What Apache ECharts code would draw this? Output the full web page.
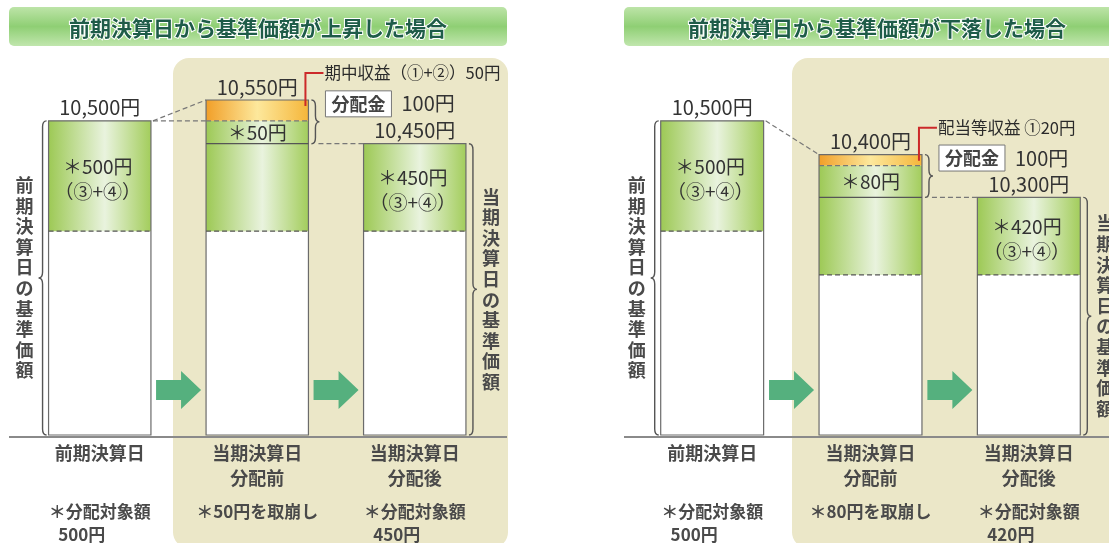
<!DOCTYPE html>
<html><head><meta charset="utf-8">
<script src="https://cdn.jsdelivr.net/npm/echarts@6/dist/echarts.min.js"></script>
<style>html,body{margin:0;padding:0;background:#fff}#c{width:1109px;height:543px}</style>
</head><body><div id="c"></div>
<script>
const FONT = '"Noto Sans CJK JP", "Noto Sans", sans-serif';

// ---------------- Data ----------------
const categories = ['前期決算日', '当期決算日\n分配前', '当期決算日\n分配後'];
const titleUp = '前期決算日から基準価額が上昇した場合';
const titleDown = '前期決算日から基準価額が下落した場合';
const sideTitleLeft = '前期決算日の基準価額';
const sideTitleRight = '当期決算日の基準価額';

// 基準価額 (円)
const navUp = [10500, 10550, 10450];
const navDown = [10500, 10400, 10300];
// 分配対象額 (③+④) (円)
const targetUp = [500, null, 450];
const targetDown = [500, null, 420];
// 取崩し額 (円)
const drawUp = [0, 50, 0];
const drawDown = [0, 80, 0];
// 期中収益 / 配当等収益 (円)
const incomeUp = [0, 50, 0];
const incomeDown = [0, 20, 0];
// 分配金 (円)
const distUp = [0, 100, 0];
const distDown = [0, 100, 0];
const incomeTextUp = '期中収益（①+②）50円';
const incomeTextDown = '配当等収益 ①20円';

// Schematic segment heights (diagram is not to scale)
const hBaseUp = [205, 205, 205];
const hTargetUp = [111, 88, 88];
const hDrawUp = [0, 23, 0];
const hIncomeUp = [0, 21, 0];
const hBaseDown = [205, 161, 161];
const hTargetDown = [111, 78, 78];
const hDrawDown = [0, 32, 0];
const hIncomeDown = [0, 11, 0];
const yMax = 340;

// ---------------- Helpers ----------------
const G = echarts.graphic;
const greenGrad = () => new G.LinearGradient(0, 0, 1, 0, [
  { offset: 0, color: '#9dc955' }, { offset: 0.55, color: '#e9f3de' }, { offset: 1, color: '#a3cd5c' }]);
const orangeGrad = () => new G.LinearGradient(0, 0, 1, 0, [
  { offset: 0, color: '#f19f28' }, { offset: 0.5, color: '#fde89c' }, { offset: 1, color: '#f5b63a' }]);
const yen = v => v.toLocaleString('en-US') + '円';

function rect(x, y, w, h, fill) {
  return { type: 'rect', shape: { x, y, width: w, height: h }, style: { fill } };
}
function seg(x1, y1, x2, y2, dashed, color, lw) {
  return { type: 'line', shape: { x1, y1, x2, y2 },
    style: { stroke: color || '#666', lineWidth: lw || 1.2, lineDash: dashed ? [5, 3] : null } };
}
function txt(text, x, y, o) {
  o = o || {};
  return { type: 'text', style: {
    text, x, y, fill: o.color || '#333', fontSize: o.size || 19, fontFamily: FONT,
    fontWeight: o.weight || 'normal', align: o.align || 'center', verticalAlign: 'middle',
    lineHeight: o.lh || undefined } };
}
function brace(x, yT, yB, dir) {
  const r = Math.min(6, (yB - yT) / 4), ym = (yT + yB) / 2;
  const ex = x - dir * 4, tx = x + dir * 4;
  const d = `M${ex},${yT} Q${x},${yT} ${x},${yT + r} L${x},${ym - r} Q${x},${ym} ${tx},${ym} ` +
            `Q${x},${ym} ${x},${ym + r} L${x},${yB - r} Q${x},${yB} ${ex},${yB}`;
  return { type: 'path', shape: { pathData: d }, style: { fill: 'none', stroke: '#555', lineWidth: 1.4 } };
}
function vtext(s, x, y) {
  return txt(s.split('').join('\n'), x, y, { size: 18, lh: 20.6, weight: 'bold', color: '#4a4a4a' });
}

function makePanel(P) {
  const n = P.nav.length;
  const cumH = j => [0, P.hBase[j], P.hBase[j] + P.hTarget[j],
    P.hBase[j] + P.hTarget[j] + P.hDraw[j], P.hBase[j] + P.hTarget[j] + P.hDraw[j] + P.hIncome[j]];
  // yen levels of a bar (top, after income, after drawdown) with their schematic heights
  const levels = j => {
    const c = cumH(j);
    return [{ v: P.nav[j], h: c[4] }, { v: P.nav[j] - P.income[j], h: c[3] },
            { v: P.nav[j] - P.income[j] - P.draw[j], h: c[2] }];
  };
  return function (params, api) {
    const i = api.value(0);
    const c = cumH(i);
    const ys = c.map(h => api.coord([i, h])[1]);
    const cx = api.coord([i, 0])[0];
    const bw = api.size([1, 0])[0] * 0.65;
    const xl = cx - bw / 2, xr = cx + bw / 2, top = ys[4];
    const ch = [];
    ch.push(rect(xl, ys[1], bw, ys[0] - ys[1], '#ffffff'));
    ch.push(rect(xl, ys[2], bw, ys[1] - ys[2], greenGrad()));
    if (P.hDraw[i] > 0) ch.push(rect(xl, ys[3], bw, ys[2] - ys[3], greenGrad()));
    if (P.hIncome[i] > 0) ch.push(rect(xl, ys[4], bw, ys[3] - ys[4], orangeGrad()));
    ch.push({ type: 'rect', shape: { x: xl, y: top, width: bw, height: ys[0] - top },
      style: { fill: 'none', stroke: '#6b6b6b', lineWidth: 1.2 } });
    ch.push(seg(xl, ys[1], xr, ys[1], true, '#555'));
    if (P.hDraw[i] > 0) ch.push(seg(xl, ys[2], xr, ys[2], false, '#555'));
    if (P.hIncome[i] > 0) ch.push(seg(xl, ys[3], xr, ys[3], true, '#777'));

    // value label on top
    ch.push(txt(yen(P.nav[i]), cx, top - 13, { size: 20 }));
    // inner label
    if (P.draw[i] > 0) {
      ch.push(txt('＊' + P.draw[i] + '円', cx, (ys[2] + ys[3]) / 2, { size: 19 }));
    } else if (P.target[i]) {
      ch.push(txt('＊' + P.target[i] + '円\n（③+④）', cx - 2, (ys[1] + ys[2]) / 2 + 3, { size: 19, lh: 25 }));
    }

    // connectors from previous bar
    if (i > 0) {
      const pc = cumH(i - 1);
      const pTop = api.coord([i - 1, pc[4]])[1];
      const pxr = api.coord([i - 1, 0])[0] + bw / 2;
      if (P.income[i] > 0) ch.push(seg(pxr + 2, pTop, xl, top, true, '#777'));
      const cur = levels(i).slice(1).find(l => l.v === P.nav[i - 1]);
      if (cur) ch.push(seg(pxr + 2, pTop, xl, api.coord([i, cur.h])[1], true, '#777'));
      const prev = levels(i - 1).slice(1).find(l => l.v === P.nav[i] && P.dist[i - 1] > 0);
      if (prev) ch.push(seg(pxr + 10, api.coord([i - 1, prev.h])[1], xl, top, true, '#777'));
      // arrow
      const tip = xl - 5, yc = ys[0] - 45;
      ch.push({ type: 'polygon', shape: { points: [[tip - 45, yc - 10], [tip - 20, yc - 10], [tip - 20, yc - 19],
        [tip, yc], [tip - 20, yc + 19], [tip - 20, yc + 10], [tip - 45, yc + 10]] }, style: { fill: '#55b07e' } });
    }
    // braces + side titles
    if (i === 0) {
      ch.push(brace(xl - 6, top, ys[0], -1));
      ch.push(vtext(sideTitleLeft, xl - 24, (top + ys[0]) / 2));
    }
    if (i === n - 1) {
      ch.push(brace(xr + 7, top, ys[0], 1));
      ch.push(vtext(sideTitleRight, xr + 25, (top + ys[0]) / 2));
    }
    if (P.dist[i] > 0) {
      const bm = (ys[2] + ys[4]) / 2;
      ch.push(brace(xr + 7, ys[4], ys[2], 1));
      const by = bm - 18;
      ch.push({ type: 'rect', shape: { x: xr + 17, y: by - 13, width: 66, height: 26 },
        style: { fill: '#fff', stroke: '#777', lineWidth: 1 } });
      ch.push(txt('分配金', xr + 50, by, { size: 18, weight: 'bold', color: '#444' }));
      ch.push(txt(P.dist[i] + '円', xr + 93, by, { size: 20, align: 'left' }));
      ch.push({ type: 'polyline', shape: { points: [[xr - 3, top + 6], [xr - 3, top - 27], [xr + 15, top - 27]] },
        style: { stroke: '#cc2a2a', lineWidth: 2, fill: 'none' } });
      ch.push(txt(P.incomeText, xr + 16, top - 27, { size: 16.5, align: 'left', color: '#2a2a2a' }));
    }
    return { type: 'group', children: ch };
  };
}

const panels = [
  { nav: navUp, target: targetUp, draw: drawUp, income: incomeUp, dist: distUp, incomeText: incomeTextUp,
    hBase: hBaseUp, hTarget: hTargetUp, hDraw: hDrawUp, hIncome: hIncomeUp },
  { nav: navDown, target: targetDown, draw: drawDown, income: incomeDown, dist: distDown, incomeText: incomeTextDown,
    hBase: hBaseDown, hTarget: hTargetDown, hDraw: hDrawDown, hIncome: hIncomeDown }
];

function axisLabel(P) {
  return {
    interval: 0, margin: 6,
    formatter: (v, idx) => {
      const parts = v.split('\n');
      const note1 = P.draw[idx] > 0 ? '＊' + P.draw[idx] + '円を取崩し' : '＊分配対象額';
      const note2 = P.draw[idx] > 0 ? ' ' : P.target[idx] + '円';
      return `{a|${parts[0]}}\n{a|${parts[1] || ' '}}\n{sp| }\n{n|${note1}}\n{n|${note2}}` +
             (P.draw[idx] > 0 ? '' : '{pad|}');
    },
    rich: {
      a: { fontSize: 18, lineHeight: 25, fontWeight: 'bold', color: '#4a4a4a', fontFamily: FONT },
      sp: { fontSize: 8, lineHeight: 9 },
      n: { fontSize: 17, lineHeight: 23, fontWeight: 'bold', color: '#4a4a4a', fontFamily: FONT },
      pad: { width: 36 }
    }
  };
}

const bannerGrad = () => new G.LinearGradient(0, 0, 0, 1, [
  { offset: 0, color: '#bde4a8' }, { offset: 0.5, color: '#8fcf74' }, { offset: 1, color: '#c0e6ad' }]);
const bannerText = { fill: '#1e5c48', fontSize: 21, fontWeight: 'bold', fontFamily: FONT,
  stroke: '#ffffff', lineWidth: 2, align: 'center', verticalAlign: 'middle' };

const chart = echarts.init(document.getElementById('c'), null, { renderer: 'canvas' });
chart.setOption({
  animation: false,
  grid: [
    { left: 21, width: 472.5, top: 97, bottom: 106 },
    { left: 633, width: 475, top: 97, bottom: 106 }
  ],
  xAxis: panels.map((P, k) => ({ type: 'category', gridIndex: k, data: categories,
    axisLine: { show: false }, axisTick: { show: false }, axisLabel: axisLabel(P) })),
  yAxis: panels.map((P, k) => ({ type: 'value', gridIndex: k, min: 0, max: yMax, show: false })),
  graphic: [
    { type: 'rect', z: 0, shape: { x: 173, y: 58, width: 335, height: 490, r: 16 }, style: { fill: '#ebe7c8' } },
    { type: 'rect', z: 0, shape: { x: 792, y: 58, width: 345, height: 490, r: 16 }, style: { fill: '#ebe7c8' } },
    { type: 'rect', z: 0, shape: { x: 9, y: 7, width: 498, height: 39, r: 5 }, style: { fill: bannerGrad() } },
    { type: 'rect', z: 0, shape: { x: 624, y: 7, width: 500, height: 39, r: 5 }, style: { fill: bannerGrad() } },
    { type: 'text', z: 1, style: Object.assign({ text: titleUp, x: 258, y: 28 }, bannerText) },
    { type: 'text', z: 1, style: Object.assign({ text: titleDown, x: 877, y: 28 }, bannerText) },
    { type: 'line', z: 1, shape: { x1: 9, y1: 437, x2: 507, y2: 437 }, style: { stroke: '#8a8a8a', lineWidth: 2 } },
    { type: 'line', z: 1, shape: { x1: 624, y1: 437, x2: 1109, y2: 437 }, style: { stroke: '#8a8a8a', lineWidth: 2 } }
  ],
  series: panels.map((P, k) => ({
    type: 'custom', xAxisIndex: k, yAxisIndex: k, silent: true, clip: false, z: 5,
    renderItem: makePanel(P),
    encode: { x: 0, y: [1, 2, 3, 4] },
    data: categories.map((c, i) => [i, P.hBase[i], P.hTarget[i], P.hDraw[i], P.hIncome[i]])
  }))
});
</script></body></html>
